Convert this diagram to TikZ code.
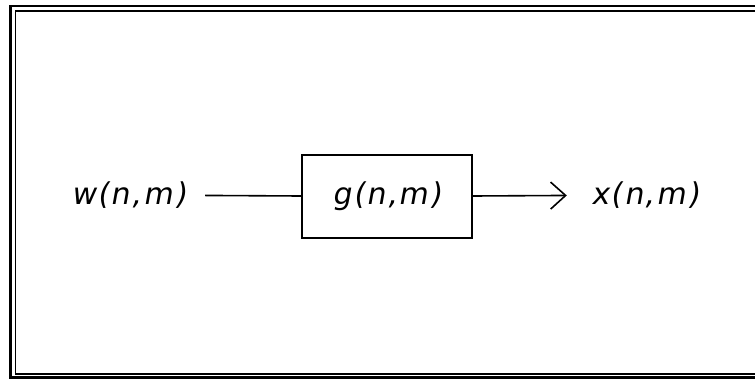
\documentclass[tikz,border=0pt]{standalone}
\usepackage{fontspec}
\usetikzlibrary{arrows.meta}
\newfontfamily\plotfont[FakeSlant=0.18, LetterSpace=6]{DejaVu Sans}
\tikzset{
  sig/.style={font=\plotfont\fontsize{30}{30}\selectfont, inner sep=0pt, minimum height=30pt},
  blk/.style={draw=black, line width=1.6pt, minimum width=170pt, minimum height=83pt, inner sep=0pt, font=\plotfont\fontsize{30}{30}\selectfont}
}
\begin{document}
\begin{tikzpicture}[x=1pt, y=-1pt]
\useasboundingbox (0,0) rectangle (755,380);
\clip (0,0) rectangle (755,380);
\draw[line width=2.6pt] (780,6) -| (10.5,377.5) -- (780,377.5);
\draw[line width=1.8pt] (780,11) -| (15.5,374) -- (780,374);
\node[sig, minimum width=153pt] (w) at (128.5,195) {w(n,m)};
\node[blk] (g) at (387,196.5) {g(n,m)};
\node[sig, minimum width=156pt] (x) at (645,195) {x(n,m)};
\path [-, line width=1.6pt, draw=black] (w) edge (g);
\path [-{Straight Barb[length=15pt, width=27pt]}, line width=1.6pt, draw=black] (g) edge (x);
\end{tikzpicture}
\end{document}
